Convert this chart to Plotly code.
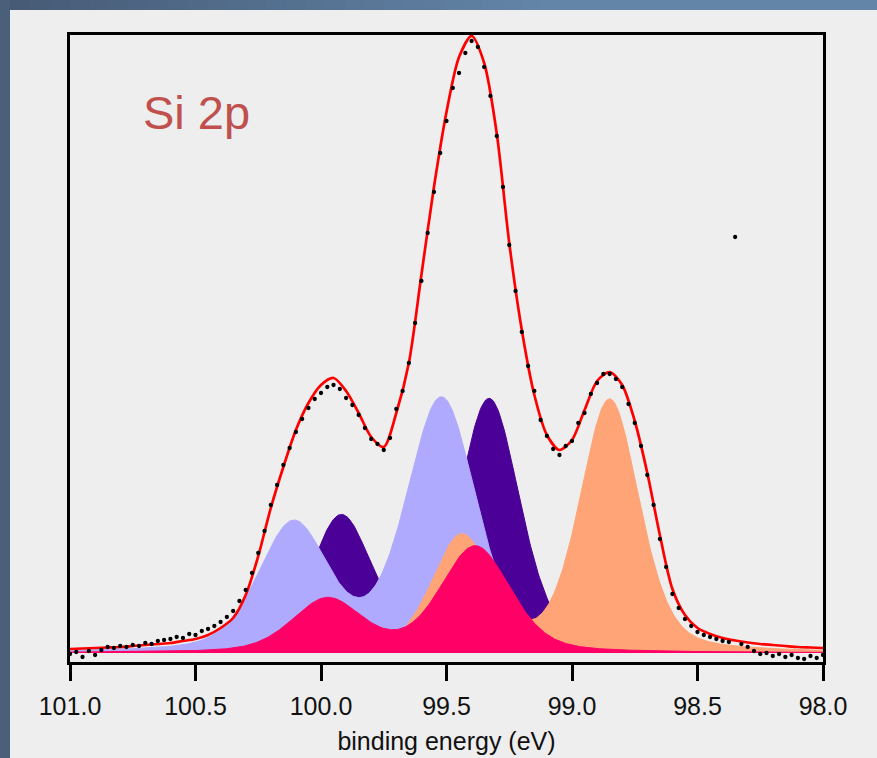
import numpy as np
import plotly.graph_objects as go

# ---- measured Si 2p spectrum (binding energy in eV, intensity in a.u.) ----
meas_energy = np.round(np.linspace(101.0, 98.0, 121), 3)
meas_counts = [
    -1, 1, -4, 2, -2, 3, 6, 5, 7, 6,
    8, 7, 10, 9, 12, 13, 14, 16, 15, 19,
    18, 22, 24, 27, 31, 36, 42, 52, 63, 80,
    100, 122, 148, 168, 188, 205, 221, 234, 245, 254,
    260, 266, 268, 264, 255, 248, 238, 225, 214, 209,
    203, 215, 244, 262, 290, 330, 372, 420, 461, 500,
    532, 565, 580, 600, 612, 606, 586, 557, 517, 466,
    408, 362, 321, 287, 262, 233, 217, 204, 198, 207,
    212, 230, 240, 259, 270, 279, 279, 274, 266, 249,
    230, 207, 178, 148, 114, 86, 59, 45, 34, 27,
    21, 18, 16, 14, 12, 11, 416, 9, 6, 2,
    -1, 0, -3, -1, -4, -2, -5, -6, -3, -5,
    -2,
]

# ---- fit envelope ----
fit_energy = np.round(np.linspace(101.0, 98.0, 61), 2)
fit_counts = [
    4, 4.5, 5, 5.5, 6, 7, 8, 9, 10, 12,
    14, 18, 25, 35, 58, 97, 145, 186, 223, 250,
    268, 275, 262, 240, 216, 206, 240, 290, 378, 466,
    541, 596, 617, 590, 520, 410, 323, 258, 218, 203,
    213, 243, 272, 281, 268, 232, 180, 118, 64, 38,
    25, 19, 15, 12.5, 10.5, 9, 8, 7, 6, 5.5,
    5,
]

# ---- Si 2p doublet components, listed in drawing order ----
comp_names = ["Si 2p 99.33 eV", "Si 2p 99.52 eV", "Si 2p 98.85 eV", "Si 2p 99.39 eV"]
comp_center = [99.33, 99.52, 98.85, 99.385]      # 2p3/2 position (eV)
comp_height = [252, 253, 252, 106]               # 2p3/2 peak height
comp_ratio = [0.53, 0.5, 0.455, 0.5]             # 2p1/2 : 2p3/2 height
comp_fwhm = [0.29, 0.33, 0.28, 0.33]             # eV
comp_color = ["#4b0097", "#b0aafe", "#ffa477", "#ff0066"]
spin_orbit_split = 0.59     # 2p1/2 - 2p3/2 (eV)
gl_mix = 0.35               # Lorentzian fraction of the line shape

x_ticks = [101.0, 100.5, 100.0, 99.5, 99.0, 98.5, 98.0]
x_tick_text = ["101.0", "100.5", "100.0", "99.5", "99.0", "98.5", "98.0"]


def pseudo_voigt(x, center, height, fwhm, mix):
    d2 = (x - center) ** 2 / fwhm ** 2
    return height * ((1 - mix) * np.exp(-4 * np.log(2) * d2) + mix / (1 + 4 * d2))


grid = np.linspace(101.0, 98.0, 601)

fig = go.Figure()

for name, c, h, r, w, col in zip(comp_names, comp_center, comp_height,
                                 comp_ratio, comp_fwhm, comp_color):
    y = (pseudo_voigt(grid, c, h, w, gl_mix)
         + pseudo_voigt(grid, c + spin_orbit_split, h * r, w, gl_mix))
    fig.add_trace(go.Scatter(
        x=grid, y=y, name=name, mode="lines", fill="tozeroy",
        fillcolor=col, line=dict(color=col, width=1), hoverinfo="skip",
    ))

fig.add_trace(go.Scatter(
    x=fit_energy, y=fit_counts, name="fit", mode="lines",
    line=dict(color="#ff0000", width=2.7, shape="spline", smoothing=0.8),
))

fig.add_trace(go.Scatter(
    x=meas_energy, y=meas_counts, name="data", mode="markers",
    marker=dict(color="black", size=4.3),
))

# window frame: dark blue strip on the left, blue gradient strip on top
W, H = 877, 758
ML, MR, MT, MB = 70, 54, 35, 96
pw, ph = W - ML - MR, H - MT - MB


def px(X):
    return (X - ML) / pw


def py(Y):
    return (H - MB - Y) / ph


shapes = [
    dict(type="rect", xref="paper", yref="paper", layer="below",
         x0=px(0), x1=px(W), y0=py(H), y1=py(0),
         fillcolor="#4a5f7a", line=dict(width=0)),
    dict(type="rect", xref="paper", yref="paper", layer="below",
         x0=px(10), x1=px(W), y0=py(H), y1=py(10),
         fillcolor="#eeeeee", line=dict(width=0)),
]
c0, c1 = np.array([70, 90, 117]), np.array([99, 133, 168])
n_strips = 44
for i in range(n_strips):
    X0 = 10 + (W - 10) * i / n_strips
    X1 = 10 + (W - 10) * (i + 1) / n_strips
    t = min(1.0, ((X0 + X1) / 2) / 540)
    r, g, b = (c0 + (c1 - c0) * t).astype(int)
    shapes.append(dict(type="rect", xref="paper", yref="paper", layer="below",
                       x0=px(X0), x1=px(X1) + 0.001, y0=py(10), y1=py(0),
                       fillcolor=f"rgb({r},{g},{b})", line=dict(width=0)))

fig.update_layout(
    width=W, height=H,
    margin=dict(l=ML, r=MR, t=MT, b=MB, autoexpand=False),
    paper_bgcolor="#4a5f7a",
    plot_bgcolor="#eeeeee",
    showlegend=False,
    shapes=shapes,
    font=dict(family="Liberation Sans, Arial, sans-serif", color="#111111"),
    annotations=[dict(
        text="Si 2p", xref="paper", yref="paper", x=px(141), y=py(112),
        xanchor="left", yanchor="middle", showarrow=False,
        font=dict(size=47, color="#c0504d", family="Liberation Sans, Arial, sans-serif"),
    )],
)

fig.update_xaxes(
    range=[101.0, 98.0], tickvals=x_ticks, ticktext=x_tick_text,
    ticks="outside", ticklen=16, tickwidth=2.5, tickcolor="black",
    showline=True, linewidth=2.5, linecolor="black", mirror=True,
    showgrid=False, zeroline=False, ticklabelstandoff=4, automargin=False,
    tickfont=dict(size=25),
    title=dict(text="binding energy (eV)", font=dict(size=25), standoff=14),
)
fig.update_yaxes(
    range=[-9, 618], showticklabels=False, ticks="",
    showline=True, linewidth=2.5, linecolor="black", mirror=True,
    showgrid=False, zeroline=False, automargin=False,
)

fig.write_html("out.html")
